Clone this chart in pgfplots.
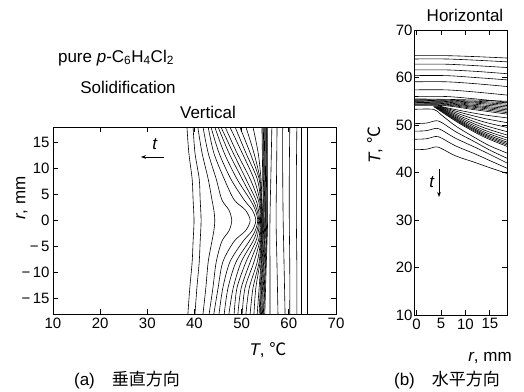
\documentclass[border=0pt]{standalone}
\usepackage{pgfplots}
\pgfplotsset{compat=1.18}
\usepackage{fontspec}
\setmainfont{Liberation Sans}
\newfontfamily\cjk{Noto Sans CJK JP}
\usetikzlibrary{arrows.meta}
\begin{document}
\begin{tikzpicture}[x=1pt,y=1pt]
\path[use as bounding box] (0,0) rectangle (524,391);
\pgfplotsset{
  common/.style={scale only axis, tick align=inside, major tick length=5pt,
    axis line style={line width=0.9pt}, every tick/.style={black, line width=0.8pt},
    tick label style={font=\fontsize{15}{17}\selectfont},
    /pgf/number format/assume math mode=true,
    every axis plot post/.append style={black, solid, line width=0.6pt, smooth, mark=none}}
}
% ---------------- (a) vertical ----------------
\begin{axis}[common, at={(53pt,77pt)}, anchor=south west, width=283pt, height=187pt,
  xmin=10, xmax=70, ymin=-18, ymax=18, xtick={10,20,...,70}, ytick={-15,-10,...,15},
  yticklabels={−\,15,−\,10,−\,5,0,5,10,15}]
% cooling curves after solidification (T, r)
\addplot coordinates {(38.4,18)(38.8,13)(39.5,8)(39.7,4)(39.9,0)(39.7,-4)(39.5,-8)(39.0,-13)(38.6,-18)};
\addplot coordinates {(39.7,18)(40.1,13)(41.0,8)(41.2,4)(41.4,0)(41.2,-4)(41.0,-8)(40.5,-13)(40.1,-18)};
\addplot coordinates {(40.7,18)(41.6,13)(42.9,8)(43.7,4)(44.1,2)(44.3,0)(44.1,-2)(43.7,-4)(42.9,-8)(42.4,-13)(41.8,-18)};
\addplot coordinates {(41.8,18)(42.9,13)(44.6,8)(45.8,4)(47.3,2)(47.9,0)(47.3,-2)(45.8,-4)(44.6,-8)(43.9,-13)(43.1,-18)};
\addplot coordinates {(42.9,18)(44.1,13)(46.3,8)(48.4,4)(50.8,2)(51.8,0)(50.8,-2)(48.4,-4)(46.0,-8)(45.0,-13)(44.1,-18)};
\addplot coordinates {(43.5,18)(45.2,13)(47.7,8)(50.5,4)(52.25,2)(53.0,0)(52.2,-2)(50.3,-4)(47.5,-8)(46.0,-13)(45.2,-18)};
\addplot coordinates {(44.3,18)(46.3,13)(49.0,8)(51.8,4)(52.9,2)(53.4,0)(52.85,-2)(51.6,-4)(48.8,-8)(47.1,-13)(46.3,-18)};
\addplot coordinates {(45.0,18)(47.3,13)(50.1,8)(52.4,4)(53.25,2)(53.6,0)(53.25,-2)(52.4,-4)(49.9,-8)(48.2,-13)(47.3,-18)};
\addplot coordinates {(45.6,18)(48.2,13)(50.9,8)(53.0,4)(53.55,2)(53.8,0)(53.55,-2)(53.0,-4)(50.9,-8)(49.0,-13)(48.4,-18)};
\addplot coordinates {(46.5,18)(49.0,13)(51.8,8)(53.5,4)(53.85,2)(54.0,0)(53.85,-2)(53.5,-4)(51.8,-8)(49.9,-13)(49.2,-18)};
\addplot coordinates {(47.5,18)(50.1,13)(52.6,8)(53.8,4)(54.1,0)(53.8,-4)(52.6,-8)(50.7,-13)(50.1,-18)};
\addplot coordinates {(48.6,18)(50.9,13)(53.3,8)(54.0,4)(54.2,0)(54.0,-4)(53.3,-8)(51.6,-13)(50.9,-18)};
\addplot coordinates {(49.6,18)(51.8,13)(53.7,8)(54.1,4)(54.3,0)(54.1,-4)(53.7,-8)(52.4,-13)(51.8,-18)};
\addplot coordinates {(50.9,18)(52.6,13)(53.9,8)(54.2,4)(54.4,0)(54.2,-4)(53.9,-8)(53.0,-13)(52.6,-18)};
\addplot coordinates {(52.4,18)(53.5,13)(54.1,8)(54.3,4)(54.5,0)(54.3,-4)(54.1,-8)(53.7,-13)(53.3,-18)};
% solidification plateau band
\addplot coordinates {(54.3,18)(54.45,9)(54.6,0)(54.15,-9)(53.7,-18)};
\addplot coordinates {(54.5,18)(54.6,9)(54.7,0)(54.3,-9)(53.9,-18)};
\addplot coordinates {(54.6,18)(54.75,9)(54.9,0)(54.45,-9)(54.0,-18)};
\addplot coordinates {(54.8,18)(54.9,9)(55.0,0)(54.6,-9)(54.2,-18)};
\addplot coordinates {(55.0,18)(55.05,9)(55.1,0)(54.75,-9)(54.4,-18)};
\addplot coordinates {(55.2,18)(55.25,9)(55.3,0)(54.95,-9)(54.6,-18)};
\addplot coordinates {(55.3,18)(55.35,9)(55.4,0)(55.05,-9)(54.7,-18)};
\addplot coordinates {(55.5,18)(55.5,9)(55.5,0)(55.2,-9)(54.9,-18)};
% liquid cooling
\addplot coordinates {(56.4,18)(56.2,9)(56.0,0)(56.0,-9)(56.0,-18)};
\addplot coordinates {(57.5,18)(57.4,9)(57.3,0)(57.5,-9)(57.7,-18)};
\addplot coordinates {(58.7,18)(58.7,9)(58.8,0)(59.0,-9)(59.2,-18)};
\addplot coordinates {(60.2,18)(60.1,9)(60.1,0)(60.2,-9)(60.2,-18)};
\addplot coordinates {(61.7,18)(61.6,9)(61.6,0)(61.7,-9)(61.7,-18)};
\addplot coordinates {(62.7,18)(62.7,9)(62.7,0)(62.7,-9)(62.7,-18)};
\addplot coordinates {(64.0,18)(64.0,9)(64.0,0)(64.0,-9)(64.0,-18)};
\end{axis}
% ---------------- (b) horizontal ----------------
\begin{axis}[common, at={(414pt,76pt)}, anchor=south west, width=93pt, height=285pt,
  xmin=-0.5, xmax=18.5, ymin=10, ymax=70, xtick={0,5,10,15}, ytick={10,20,...,70},
  yticklabel style={xshift=2pt}]
% liquid
\addplot coordinates {(-0.5,64.6)(6,64.6)(12,64.4)(18.5,64.1)};
\addplot coordinates {(-0.5,63.9)(6,63.9)(12,63.65)(18.5,63.3)};
\addplot coordinates {(-0.5,62.8)(6,62.8)(12,62.5)(18.5,62.1)};
\addplot coordinates {(-0.5,61.6)(6,61.6)(12,61.3)(18.5,60.8)};
\addplot coordinates {(-0.5,60.4)(6,60.4)(12,60.0)(18.5,59.5)};
\addplot coordinates {(-0.5,59.1)(6,59.1)(12,58.7)(18.5,58.1)};
\addplot coordinates {(-0.5,57.4)(6,57.4)(12,56.95)(18.5,56.3)};
\addplot coordinates {(-0.5,56.0)(6,56.0)(12,55.5)(18.5,54.8)};
% band
\addplot coordinates {(-0.5,55.5)(6,55.4)(12,55.25)(18.5,55.0)};
\addplot coordinates {(-0.5,55.35)(6,55.25)(12,55.0)(18.5,54.7)};
\addplot coordinates {(-0.5,55.2)(6,55.1)(12,54.8)(18.5,54.4)};
\addplot coordinates {(-0.5,55.05)(6,54.95)(12,54.6)(18.5,54.1)};
\addplot coordinates {(-0.5,54.9)(6,54.8)(12,54.35)(18.5,53.8)};
\addplot coordinates {(-0.5,54.75)(6,54.65)(12,54.1)(18.5,53.5)};
\addplot coordinates {(-0.5,54.6)(6,54.5)(12,53.9)(18.5,53.2)};
\addplot coordinates {(-0.5,54.45)(6,54.35)(12,53.7)(18.5,52.9)};
\addplot coordinates {(-0.5,54.3)(6,54.2)(12,53.45)(18.5,52.6)};
\addplot coordinates {(-0.5,54.15)(6,54.05)(12,53.2)(18.5,52.3)};
% fan below the band
\addplot coordinates {(5.0,53.9)(9.46,52.94)(14.05,52.1)(18.5,51.5)};
\addplot coordinates {(4.85,53.9)(9.35,52.54)(14.0,51.35)(18.5,50.5)};
\addplot coordinates {(4.7,53.9)(9.25,52.14)(13.95,50.6)(18.5,49.5)};
\addplot coordinates {(4.55,53.9)(9.15,51.78)(13.9,49.93)(18.5,48.6)};
\addplot coordinates {(4.4,53.9)(9.05,51.5)(13.85,49.4)(18.5,47.9)};
\addplot coordinates {(4.25,53.9)(8.95,51.26)(13.8,48.95)(18.5,47.3)};
\addplot coordinates {(4.1,53.9)(8.85,51.06)(13.75,48.58)(18.5,46.8)};
\addplot coordinates {(3.95,53.9)(8.75,50.9)(13.7,48.28)(18.5,46.4)};
\addplot coordinates {(3.8,53.9)(8.65,50.78)(13.65,48.05)(18.5,46.1)};
\addplot coordinates {(3.65,53.9)(8.55,50.66)(13.6,47.83)(18.5,45.8)};
\addplot coordinates {(3.5,53.9)(8.45,50.54)(13.55,47.6)(18.5,45.5)};
% lower curves
\addplot coordinates {(-0.5,53.3)(3.5,53.3)(5,52.2)(8,49.8)(12,47.3)(15,45.6)(18.5,44.1)};
\addplot coordinates {(-0.5,50.3)(2,50.4)(4,50.9)(5.2,50.5)(8,48.6)(12,46.4)(15,44.7)(18.5,43.0)};
\addplot coordinates {(-0.5,48.7)(2,48.8)(4,49.3)(5.2,48.9)(8,47.2)(12,45.3)(15,43.8)(18.5,42.0)};
\addplot coordinates {(-0.5,47.0)(2,47.1)(4,47.6)(5.2,47.2)(8,45.6)(12,43.9)(15,42.5)(18.5,40.9)};
\addplot coordinates {(-0.5,44.8)(2,44.9)(4,45.4)(5.2,45.0)(8,43.5)(12,42.1)(15,41.0)(18.5,39.8)};
\end{axis}
% ---------------- annotations ----------------
\tikzset{lab/.style={font=\fontsize{17}{19}\selectfont, inner sep=0pt}}
\node[lab] at (116,333) {pure \textit{p}-C\textsubscript{6}H\textsubscript{4}Cl\textsubscript{2}};
\node[lab] at (128,304) {Solidification};
\node[lab] at (208,279) {Vertical};
\node[lab] at (155,247) {\textit{t}};
\draw[line width=0.8pt,-{Stealth[length=5pt]}] (164,234) -- (141,234);
\node[lab, rotate=90] at (22,193) {\textit{r}, mm};
\node[lab] at (268,41) {\textit{T}, {\cjk ℃}};
\node[lab] at (127,11) {(a)\quad{\cjk 垂直方向}};
\node[lab] at (465,376) {Horizontal};
\node[lab, rotate=90] at (375,246) {\textit{T}, {\cjk ℃}};
\node[lab] at (432,209) {\textit{t}};
\draw[line width=0.8pt,-{Stealth[length=5pt]}] (439,222) -- (439,194);
\node[lab] at (490,33) {\textit{r}, mm};
\node[lab] at (447,11) {(b)\quad{\cjk 水平方向}};
\end{tikzpicture}
\end{document}
